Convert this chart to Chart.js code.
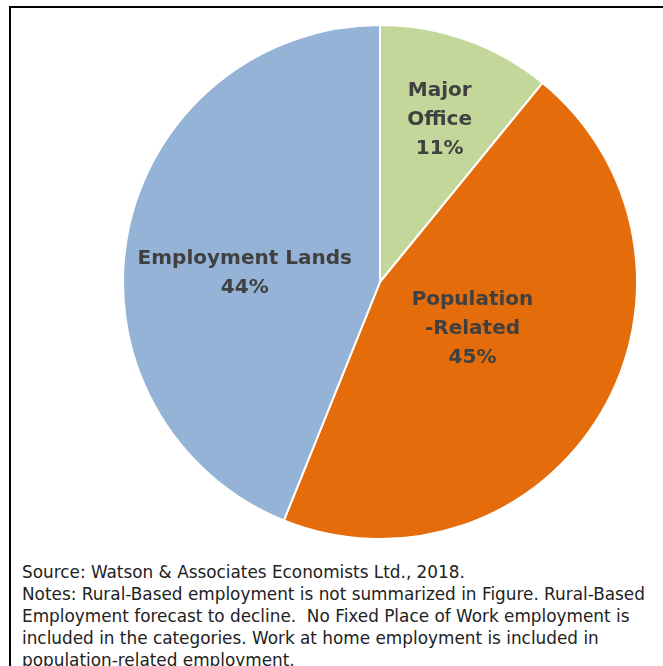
<!DOCTYPE html>
<html>
<head>
<meta charset="utf-8">
<script src="https://cdn.jsdelivr.net/npm/chart.js@4.4.1/dist/chart.umd.min.js"></script>
<style>
  html, body { margin: 0; padding: 0; background: #fff; }
  body { width: 663px; height: 666px; position: relative; overflow: hidden; }
  #frame { position: absolute; left: 9px; top: 6px; width: 720px; height: 720px; border: 2px solid #000; box-sizing: border-box; }
  #wrap { position: absolute; left: 122px; top: 24px; width: 516px; height: 516px; }
  #notes { position: absolute; left: 22px; top: 561px; font-family: "DejaVu Sans", sans-serif; font-size: 15px; line-height: 22px; color: #222; white-space: nowrap; }
</style>
</head>
<body>
<div id="frame"></div>
<div id="wrap"><canvas id="chart1"></canvas></div>
<div id="notes">
  <div>Source: Watson &amp; Associates Economists Ltd., 2018.</div>
  <div>Notes: Rural-Based employment is not summarized in Figure. Rural-Based</div>
  <div>Employment forecast to decline.&nbsp; No Fixed Place of Work employment is</div>
  <div>included in the categories. Work at home employment is included in</div>
  <div>population-related employment.</div>
</div>
<script>
// share of employment by category, clockwise from the top
var categories = ['Major Office', 'Population-Related', 'Employment Lands'];
var shares = [10.9, 45.2, 43.9];
var labelLines = [['Major', 'Office', '11%'], ['Population', '-Related', '45%'], ['Employment Lands', '44%']];
var sliceColors = ['#C4D79B', '#E46C0A', '#95B3D7'];

// where each label sits: fraction of radius along the slice middle, plus a nudge
var labelRadius = [0.68, 0.40, 0.54];
var labelNudge = [[1, 2], [4, -6], [1, 18]];

var sliceLabels = {
    id: 'sliceLabels',
    afterDatasetsDraw: function (chart) {
        var ctx = chart.ctx;
        var arcs = chart.getDatasetMeta(0).data;
        ctx.save();
        ctx.fillStyle = '#404040';
        ctx.font = 'bold 20px "DejaVu Sans"';
        ctx.textAlign = 'center';
        ctx.textBaseline = 'middle';
        arcs.forEach(function (arc, i) {
            var p = arc.getProps(['x', 'y', 'startAngle', 'endAngle', 'outerRadius'], true);
            var mid = (p.startAngle + p.endAngle) / 2;
            var r = p.outerRadius * labelRadius[i];
            var cx = p.x + Math.cos(mid) * r + labelNudge[i][0];
            var cy = p.y + Math.sin(mid) * r + labelNudge[i][1];
            var lines = labelLines[i];
            var lh = 29;
            var y0 = cy - (lines.length - 1) * lh / 2;
            lines.forEach(function (t, j) {
                ctx.fillText(t, cx, y0 + j * lh);
            });
        });
        ctx.restore();
    }
};

// fit the notes font to the width of the longest line
(function () {
    var notes = document.getElementById('notes');
    var w = notes.children[1].getBoundingClientRect().width;
    var size = 15 * 623 / w;
    notes.style.fontSize = size.toFixed(2) + 'px';
})();

new Chart(document.getElementById('chart1').getContext('2d'), {
    type: 'pie',
    data: {
        labels: categories,
        datasets: [{
            data: shares,
            backgroundColor: sliceColors,
            borderColor: '#ffffff',
            borderWidth: 2
        }]
    },
    options: {
        responsive: true,
        maintainAspectRatio: false,
        animation: false,
        layout: { padding: 0 },
        plugins: {
            legend: { display: false },
            tooltip: { enabled: false }
        }
    },
    plugins: [sliceLabels]
});
</script>
</body>
</html>
